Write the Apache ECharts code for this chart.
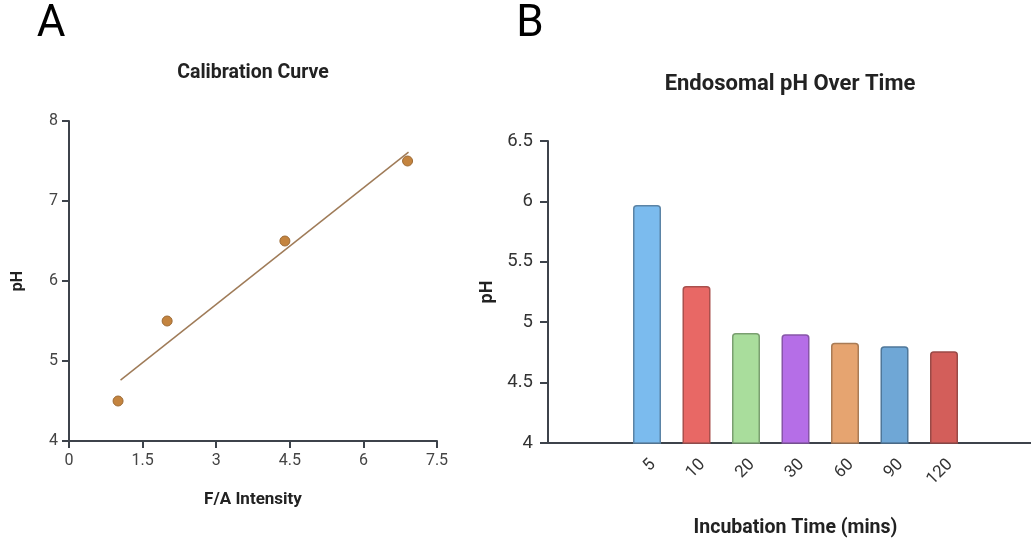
<!DOCTYPE html>
<html>
<head>
<meta charset="utf-8">
<style>
html, body { margin: 0; padding: 0; background: #fff; }
#chart-panel { width: 1031px; height: 539px; }
</style>
<script src="https://cdn.jsdelivr.net/npm/echarts@6/dist/echarts.min.js"></script>
</head>
<body>
<div id="chart-panel"></div>
<script type="text/javascript">
// panel A: calibration points and fitted line
var fluorX = [1.0, 2.0, 4.4, 6.9];
var calibPH = [4.5, 5.5, 6.5, 7.5];
var fitX = [1.05, 6.92];
var fitY = [4.76, 7.61];

// panel B: endosomal pH by incubation time
var timeLabels = ['5', '10', '20', '30', '60', '90', '120'];
var phValues = [5.97, 5.30, 4.91, 4.90, 4.83, 4.80, 4.76];
var barColors = ['#7bbbee', '#e86865', '#a9dd9c', '#b56ee7', '#e6a470', '#6fa7d6', '#d35e5a'];
var barBorders = ['#5b84a6', '#a9504d', '#7a9f70', '#8756a8', '#a97b55', '#4f7799', '#9a4a47'];

var font = 'Roboto, "Noto Sans", sans-serif';
var axisColor = '#3d434b';

// blank slots either side so bars sit where the original placed them
var xCats = ['', ' '].concat(timeLabels, ['  ', '   ']);
var barData = ['-', '-'];
phValues.forEach(function (v, i) {
    barData.push({
        value: v,
        itemStyle: { color: barColors[i], borderColor: barBorders[i] }
    });
});
barData.push('-', '-');

var fitData = fitX.map(function (x, i) { return [x, fitY[i]]; });
var pointData = fluorX.map(function (x, i) { return [x, calibPH[i]]; });

var myChart = echarts.init(document.getElementById('chart-panel'));

var option = {
    animation: false,
    textStyle: { fontFamily: font },
    graphic: [
        { type: 'text', x: 51, y: 25, style: { text: 'A', font: '44px ' + font, fill: '#000', align: 'center', verticalAlign: 'middle' } },
        { type: 'text', x: 530, y: 25, style: { text: 'B', font: '44px ' + font, fill: '#000', align: 'center', verticalAlign: 'middle' } },
        { type: 'text', x: 253, y: 73, style: { text: 'Calibration Curve', font: 'bold 19.5px ' + font, fill: '#222', align: 'center', verticalAlign: 'middle' } },
        { type: 'text', x: 790, y: 84, style: { text: 'Endosomal pH Over Time', font: 'bold 22px ' + font, fill: '#222', align: 'center', verticalAlign: 'middle' } }
    ],
    grid: [
        { left: 69, top: 121, width: 368, height: 320, outerBoundsMode: 'none' },
        { left: 548, top: 141, width: 495, height: 302, outerBoundsMode: 'none' }
    ],
    xAxis: [
        {
            gridIndex: 0, type: 'value', min: 0, max: 7.5, interval: 1.5,
            name: 'F/A Intensity', nameLocation: 'middle', nameGap: 50,
            nameTextStyle: { fontWeight: 'bold', fontSize: 17, color: '#222' },
            axisLine: { lineStyle: { color: axisColor, width: 2 } },
            axisTick: { show: true, length: 7, lineStyle: { color: axisColor, width: 2 } },
            axisLabel: { fontSize: 16, color: '#444', margin: 12 },
            splitLine: { show: false }
        },
        {
            gridIndex: 1, type: 'category', data: xCats, boundaryGap: false,
            name: 'Incubation Time (mins)', nameLocation: 'middle', nameGap: 75,
            nameTextStyle: { fontWeight: 'bold', fontSize: 19.5, color: '#222' },
            axisLine: { lineStyle: { color: axisColor, width: 2 } },
            axisTick: { show: false },
            axisLabel: { fontSize: 17, color: '#333', rotate: 45, verticalAlign: 'top', margin: 13, interval: 0 },
            splitLine: { show: false }
        }
    ],
    yAxis: [
        {
            gridIndex: 0, type: 'value', min: 4, max: 8, interval: 1,
            name: 'pH', nameLocation: 'middle', nameGap: 43,
            nameTextStyle: { fontWeight: 'bold', fontSize: 16, color: '#222' },
            axisLine: { show: true, lineStyle: { color: axisColor, width: 2 } },
            axisTick: { show: true, length: 7, lineStyle: { color: axisColor, width: 2 } },
            axisLabel: { fontSize: 16, color: '#444', margin: 11 },
            splitLine: { show: false }
        },
        {
            gridIndex: 1, type: 'value', min: 4, max: 6.5, interval: 0.5,
            name: 'pH', nameLocation: 'middle', nameGap: 52,
            nameTextStyle: { fontWeight: 'bold', fontSize: 18, color: '#222' },
            axisLine: { show: true, lineStyle: { color: axisColor, width: 2 } },
            axisTick: { show: true, length: 8, lineStyle: { color: axisColor, width: 2 } },
            axisLabel: { fontSize: 18.5, color: '#333', margin: 15 },
            splitLine: { show: false }
        }
    ],
    series: [
        {
            type: 'line', xAxisIndex: 0, yAxisIndex: 0, data: fitData,
            symbol: 'none', lineStyle: { color: '#9f7b58', width: 1.5 }
        },
        {
            type: 'scatter', xAxisIndex: 0, yAxisIndex: 0, data: pointData,
            symbolSize: 10,
            itemStyle: { color: '#c4843f', borderColor: '#9c6a35', borderWidth: 1, opacity: 1 }
        },
        {
            type: 'bar', xAxisIndex: 1, yAxisIndex: 1, data: barData,
            barWidth: 28,
            itemStyle: { borderWidth: 1.5, borderRadius: [3, 3, 0, 0] }
        }
    ]
};

myChart.setOption(option);
</script>
</body>
</html>
